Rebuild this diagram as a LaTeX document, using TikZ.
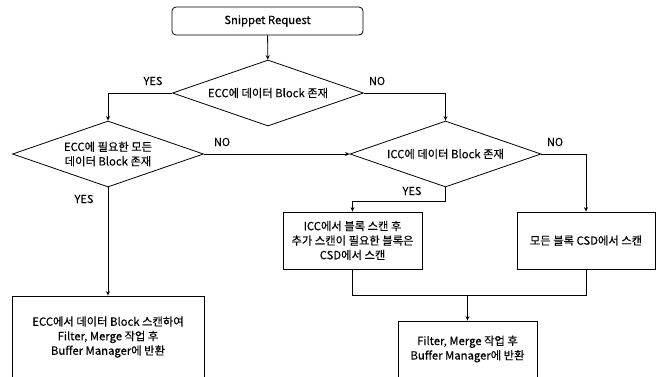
\documentclass[tikz,border=0pt]{standalone}
\usepackage{fontspec}
\setmainfont{Noto Sans CJK KR}[FakeBold=0.25]
\usetikzlibrary{shapes.geometric,arrows.meta}
\begin{document}
\begin{tikzpicture}[x=1pt,y=-1pt,
  font=\fontsize{11.3}{14.5}\selectfont,
  line width=0.8pt,
  flow/.style={-{Stealth[length=4.5pt,width=4pt]}},
  link/.style={},
  procbox/.style={draw, rectangle, align=center, inner sep=0pt},
  startbox/.style={draw, rectangle, rounded corners=4pt, align=center, inner sep=0pt,
    minimum width=191pt, minimum height=28pt},
  decision/.style={draw, diamond, aspect=2.9, align=center, inner sep=0pt,
    minimum width=191pt, minimum height=66pt},
  answer/.style={font=\fontsize{11}{12}\selectfont, inner sep=0pt}]
  \useasboundingbox (0,0) rectangle (665,376);
  \clip (0,0) rectangle (665,376);

  % nodes
  \node[startbox] (start) at (267.5,21) {Snippet Request};
  \node[decision] (d1) at (268,93) {ECC에 데이터 Block 존재};
  \node[decision] (d2) at (108,154) {ECC에 필요한 모든\\데이터 Block 존재};
  \node[decision] (d3) at (445.5,154) {ICC에 데이터 Block 존재};
  \node[procbox, minimum width=192pt, minimum height=82pt] (ecc) at (108,337)
    {ECC에서 데이터 Block 스캔하여\\Filter, Merge 작업 후\\Buffer Manager에 반환};
  \node[procbox, minimum width=139pt, minimum height=57pt] (icc) at (352.5,240.5)
    {ICC에서 블록 스캔 후\\추가 스캔이 필요한 블록은\\CSD에서 스캔};
  \node[procbox, minimum width=138pt, minimum height=57pt] (csd) at (586,240.5)
    {모든 블록 CSD에서 스캔};
  \node[procbox, minimum width=139pt, minimum height=56pt] (out) at (467.5,349)
    {Filter, Merge 작업 후\\Buffer Manager에 반환};

  % connectors
  \draw[flow] (start) -- (d1);
  \draw[flow] (d1.west) -| (d2.north);
  \draw[flow] (d1.east) -| (d3.north);
  \draw[flow] (d2.east) -- (d3.west);
  \draw[flow] (d2.south) -- (ecc.north);
  \draw[flow] (d3.east) -| (csd.north);
  \coordinate (ybend) at (445.5,201);
  \draw[flow] (d3.south) -- (ybend) -| (icc.north);
  \coordinate (mergeL) at (352.5,295);
  \coordinate (mergeR) at (586,295);
  \draw[link] (icc.south) -- (mergeL) -- (mergeR) -- (csd.south);
  \draw[flow] (out.north |- mergeL) -- (out.north);

  % branch labels
  \node[answer] (y1) at (153,81) {YES};
  \node[answer] (n1) at (377,81) {NO};
  \node[answer] (n2) at (222,142) {NO};
  \node[answer] (n3) at (555,142) {NO};
  \node[answer] (y2) at (84,199) {YES};
  \node[answer] (y3) at (412,191) {YES};
\end{tikzpicture}
\end{document}
